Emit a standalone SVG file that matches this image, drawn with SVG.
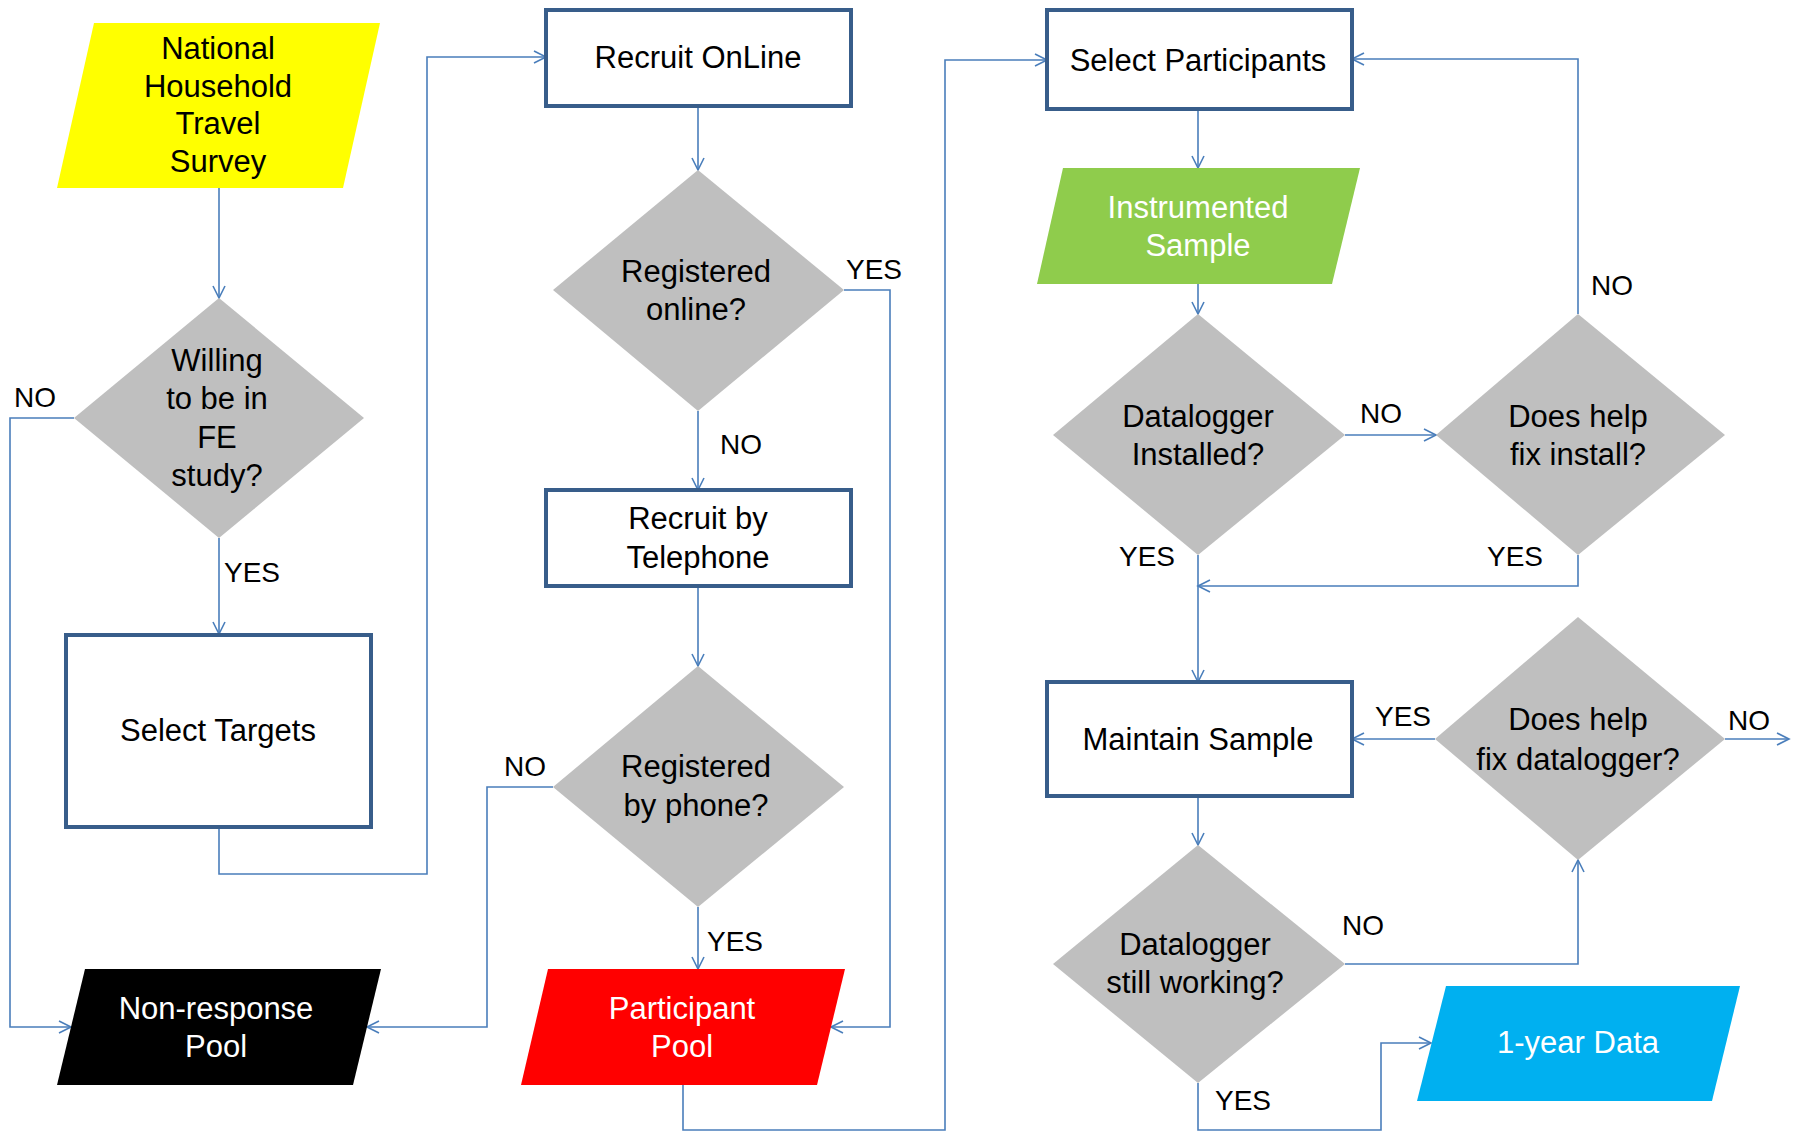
<svg xmlns="http://www.w3.org/2000/svg" width="1795" height="1133" viewBox="0 0 1795 1133">
<defs>
<marker id="arr" markerUnits="userSpaceOnUse" markerWidth="16" markerHeight="16" refX="13" refY="7" orient="auto" viewBox="0 0 16 14">
<path d="M1,1 L13,7 L1,13" fill="none" stroke="#4A7EBB" stroke-width="1.6"/>
</marker>
<style>
.t{font-family:"Liberation Sans",Arial,sans-serif;font-size:31px;text-anchor:middle;fill:#000}
.w{fill:#fff}
.l{font-family:"Liberation Sans",Arial,sans-serif;font-size:28px;fill:#000}
.box{fill:#fff;stroke:#385D8A;stroke-width:4}
.dia{fill:#BFBFBF}
.c{fill:none;stroke:#4A7EBB;stroke-width:1.6;marker-end:url(#arr)}
</style>
</defs>
<rect width="1795" height="1133" fill="#fff"/>

<g id="connectors">
<path class="c" d="M219,188 L219,298"/>
<path class="c" d="M74,418 L10,418 L10,1027 L71,1027"/>
<path class="c" d="M219,538 L219,634"/>
<path class="c" d="M219,827 L219,874 L427,874 L427,57 L546,57"/>
<path class="c" d="M698,106 L698,170"/>
<path class="c" d="M844,290 L890,290 L890,1027 L831,1027"/>
<path class="c" d="M698,411 L698,490"/>
<path class="c" d="M698,586 L698,666"/>
<path class="c" d="M553,787 L487,787 L487,1027 L367,1027"/>
<path class="c" d="M698,907 L698,969"/>
<path class="c" d="M683,1085 L683,1130 L945,1130 L945,60 L1047,60"/>
<path class="c" d="M1198,109 L1198,168"/>
<path class="c" d="M1198,284 L1198,314"/>
<path class="c" d="M1345,435 L1436,435"/>
<path class="c" d="M1578,314 L1578,59 L1352,59"/>
<path class="c" d="M1578,555 L1578,586 L1198,586"/>
<path class="c" d="M1198,555 L1198,682"/>
<path class="c" d="M1435,739 L1352,739"/>
<path class="c" d="M1725,739 L1789,739"/>
<path class="c" d="M1198,796 L1198,845"/>
<path class="c" d="M1345,964 L1578,964 L1578,860"/>
<path class="c" d="M1198,1083 L1198,1130 L1381,1130 L1381,1043 L1431,1043"/>
</g>

<g id="labels">
<text class="l" x="14" y="407">NO</text>
<text class="l" x="224" y="582">YES</text>
<text class="l" x="846" y="279">YES</text>
<text class="l" x="720" y="454">NO</text>
<text class="l" x="504" y="776">NO</text>
<text class="l" x="707" y="951">YES</text>
<text class="l" x="1360" y="423">NO</text>
<text class="l" x="1591" y="295">NO</text>
<text class="l" x="1119" y="566">YES</text>
<text class="l" x="1487" y="566">YES</text>
<text class="l" x="1375" y="726">YES</text>
<text class="l" x="1728" y="730">NO</text>
<text class="l" x="1342" y="935">NO</text>
<text class="l" x="1215" y="1110">YES</text>
</g>

<g id="nhts">
<polygon points="94,23 380,23 343,188 57,188" fill="#FFFF00"/>
<text class="t" x="218" y="59">National</text>
<text class="t" x="218" y="97">Household</text>
<text class="t" x="218" y="134">Travel</text>
<text class="t" x="218" y="172">Survey</text>
</g>

<g id="willing">
<polygon class="dia" points="219,298 364,418 219,538 74,418"/>
<text class="t" x="217" y="371">Willing</text>
<text class="t" x="217" y="409">to be in</text>
<text class="t" x="217" y="448">FE</text>
<text class="t" x="217" y="486">study?</text>
</g>

<g id="select-targets">
<rect class="box" x="66" y="635" width="305" height="192"/>
<text class="t" x="218" y="741">Select Targets</text>
</g>

<g id="nonresponse">
<polygon points="85,969 381,969 353,1085 57,1085" fill="#000"/>
<text class="t w" x="216" y="1019">Non-response</text>
<text class="t w" x="216" y="1057">Pool</text>
</g>

<g id="recruit-online">
<rect class="box" x="546" y="10" width="305" height="96"/>
<text class="t" x="698" y="68">Recruit OnLine</text>
</g>

<g id="registered-online">
<polygon class="dia" points="698,170 844,290 698,411 553,290"/>
<text class="t" x="696" y="282">Registered</text>
<text class="t" x="696" y="320">online?</text>
</g>

<g id="recruit-phone">
<rect class="box" x="546" y="490" width="305" height="96"/>
<text class="t" x="698" y="529">Recruit by</text>
<text class="t" x="698" y="568">Telephone</text>
</g>

<g id="registered-phone">
<polygon class="dia" points="698,666 844,787 698,907 553,787"/>
<text class="t" x="696" y="777">Registered</text>
<text class="t" x="696" y="816">by phone?</text>
</g>

<g id="participant-pool">
<polygon points="548,969 845,969 817,1085 521,1085" fill="#FF0000"/>
<text class="t w" x="682" y="1019">Participant</text>
<text class="t w" x="682" y="1057">Pool</text>
</g>

<g id="select-participants">
<rect class="box" x="1047" y="10" width="305" height="99"/>
<text class="t" x="1198" y="71">Select Participants</text>
</g>

<g id="instrumented">
<polygon points="1063,168 1360,168 1332,284 1037,284" fill="#8FCC4C"/>
<text class="t w" x="1198" y="218">Instrumented</text>
<text class="t w" x="1198" y="256">Sample</text>
</g>

<g id="installed">
<polygon class="dia" points="1198,314 1345,435 1198,555 1053,435"/>
<text class="t" x="1198" y="427">Datalogger</text>
<text class="t" x="1198" y="465">Installed?</text>
</g>

<g id="fix-install">
<polygon class="dia" points="1578,314 1725,435 1578,555 1436,435"/>
<text class="t" x="1578" y="427">Does help</text>
<text class="t" x="1578" y="465">fix install?</text>
</g>

<g id="maintain">
<rect class="box" x="1047" y="682" width="305" height="114"/>
<text class="t" x="1198" y="750">Maintain Sample</text>
</g>

<g id="fix-datalogger">
<polygon class="dia" points="1578,617 1725,739 1578,860 1435,739"/>
<text class="t" x="1578" y="730">Does help</text>
<text class="t" x="1578" y="770">fix datalogger?</text>
</g>

<g id="still-working">
<polygon class="dia" points="1198,845 1345,964 1198,1083 1053,964"/>
<text class="t" x="1195" y="955">Datalogger</text>
<text class="t" x="1195" y="993">still working?</text>
</g>

<g id="one-year">
<polygon points="1446,986 1740,986 1712,1101 1417,1101" fill="#00B0F0"/>
<text class="t w" x="1578" y="1053">1-year Data</text>
</g>
</svg>
